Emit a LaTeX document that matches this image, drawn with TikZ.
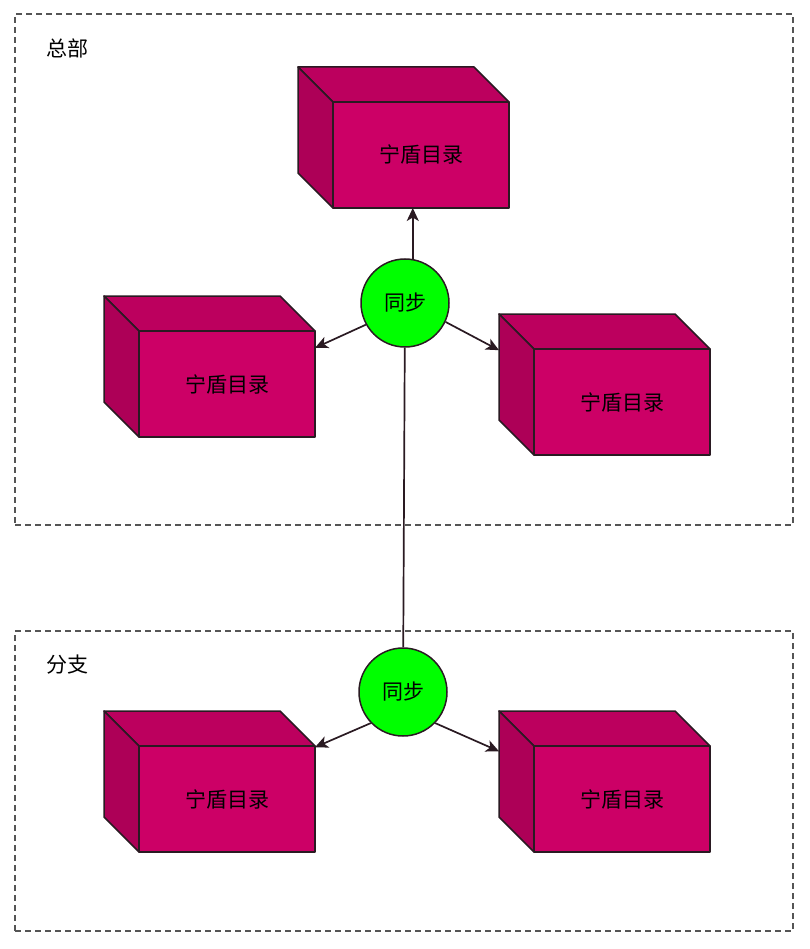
\documentclass[tikz,border=0pt]{standalone}
\usepackage{fontspec}
\setmainfont{Noto Sans CJK SC}
\usepackage{tikz}
\usetikzlibrary{arrows.meta,positioning,backgrounds}
\definecolor{dirfront}{HTML}{CC0066}
\definecolor{syncgreen}{HTML}{00FF00}
\definecolor{edgedark}{HTML}{2A1A22}
\definecolor{groupgray}{HTML}{555555}

\begin{document}
\begin{tikzpicture}[x=1pt, y=-1pt,
          group/.style={draw=groupgray, line width=1.5pt,
                        dash pattern=on 6pt off 4pt,
                        anchor=north west, inner sep=0pt, outer sep=0pt},
          grouptitle/.style={font=\fontsize{21}{24}\selectfont, inner sep=0pt},
          cube/.style={minimum width=211pt, minimum height=141pt,
                       inner sep=0pt, outer sep=0pt,
                       label={[font=\fontsize{21}{24}\selectfont,
                               xshift=17.5pt, yshift=-17.5pt]center:#1}},
          face/.style={draw=edgedark, line width=1.5pt, line join=round},
          sync/.style={circle, draw=edgedark, line width=1.5pt,
                       fill=syncgreen, minimum size=88pt, inner sep=0pt,
                       font=\fontsize{21}{24}\selectfont},
          arr/.style={-{Stealth[length=13pt, width=12pt, inset=3.5pt]},
                      line width=1.7pt, edgedark},
          link/.style={line width=1.7pt, edgedark}
        ]
          \useasboundingbox (0,0) rectangle (809,949);
          \node[group, minimum width=778pt, minimum height=511pt] (hq) at (15,14) {};
          \node[group, minimum width=778pt, minimum height=300pt] (branch) at (15,631) {};
          \node[grouptitle] (hqtitle) at (67,48) {总部};
          \node[grouptitle] (branchtitle) at (67,665) {分支};

          \node[cube=宁盾目录] (hqtop) at (403.5,137.5) {};
          \node[cube=宁盾目录] (hqleft) at (209.5,366.5) {};
          \node[cube=宁盾目录] (hqright) at (604.5,384.5) {};
          \node[cube=宁盾目录] (brleft) at (209.5,781.5) {};
          \node[cube=宁盾目录] (brright) at (604.5,781.5) {};

          \begin{pgfonlayer}{background}
            \foreach \c in {hqtop,hqleft,hqright,brleft,brright} {
              \filldraw[face, fill=dirfront!92!black] (\c.north west) -- ++(176,0)
                       -- ++(35,35) -- ++(-176,0) -- cycle;
              \filldraw[face, fill=dirfront!85!black] (\c.north west) -- ++(35,35)
                       -- ++(0,106) -- ++(-35,-35) -- cycle;
              \filldraw[face, fill=dirfront] ([xshift=35pt,yshift=-35pt]\c.north west)
                       rectangle (\c.south east);
            }
          \end{pgfonlayer}

          \node[sync] (synchq) at (405,303) {同步};
          \node[sync] (syncbr) at (403,692) {同步};

          \draw[arr] (synchq.80) -- (synchq.80 |- hqtop.south);
          \draw[arr] (synchq.209) -- (hqleft.10);
          \draw[arr] (synchq.335) -- (hqright.162);
          \draw[link] (synchq) -- (syncbr);
          \draw[arr] (syncbr.224) -- (brleft.18.6);
          \draw[arr] (syncbr.316) -- (brright.164.5);
        \end{tikzpicture}
\end{document}
